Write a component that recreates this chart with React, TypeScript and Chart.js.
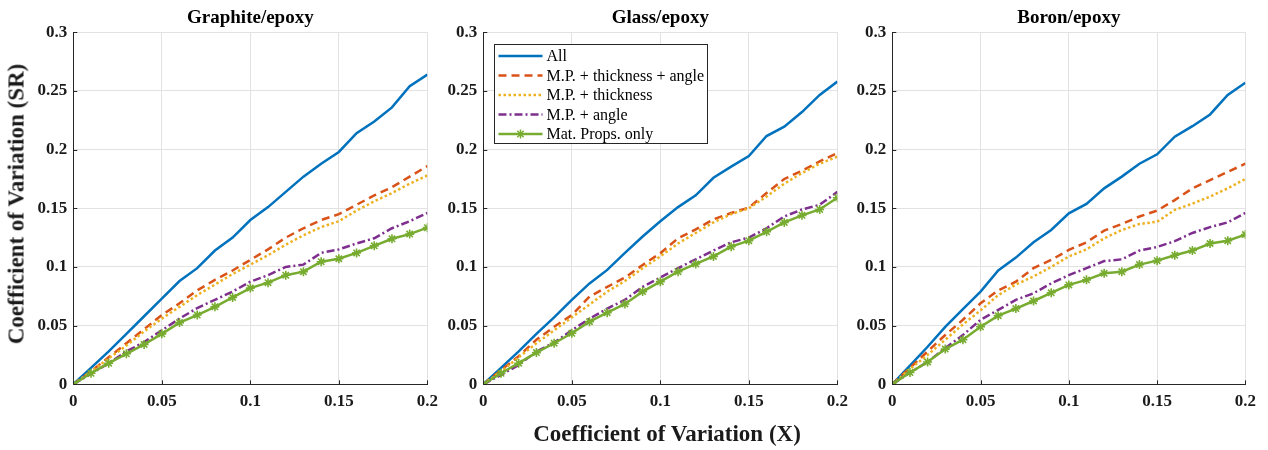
import React, { useEffect, useRef } from "react";
import { Chart, registerables } from "chart.js";

Chart.register(...registerables);

const xValues = [0, 0.01, 0.02, 0.03, 0.04, 0.05, 0.06, 0.07, 0.08, 0.09, 0.1, 0.11, 0.12, 0.13, 0.14, 0.15, 0.16, 0.17, 0.18, 0.19, 0.2];

const seriesNames = ["All", "M.P. + thickness + angle", "M.P. + thickness", "M.P. + angle", "Mat. Props. only"];
const panelTitles = ["Graphite/epoxy", "Glass/epoxy", "Boron/epoxy"];

// Graphite/epoxy
const graphiteAll = [0, 0.014, 0.028, 0.043, 0.058, 0.073, 0.088, 0.099, 0.114, 0.125, 0.140, 0.151, 0.164, 0.177, 0.188, 0.198, 0.214, 0.224, 0.236, 0.254, 0.264];
const graphiteThickAngle = [0, 0.011, 0.023, 0.035, 0.047, 0.059, 0.069, 0.080, 0.089, 0.097, 0.106, 0.115, 0.125, 0.133, 0.140, 0.145, 0.153, 0.161, 0.168, 0.177, 0.186];
const graphiteThick = [0, 0.011, 0.022, 0.033, 0.045, 0.056, 0.066, 0.076, 0.085, 0.094, 0.102, 0.110, 0.119, 0.127, 0.134, 0.139, 0.148, 0.156, 0.163, 0.171, 0.178];
const graphiteAngle = [0, 0.009, 0.018, 0.028, 0.036, 0.046, 0.056, 0.065, 0.072, 0.079, 0.0875, 0.093, 0.100, 0.102, 0.112, 0.115, 0.120, 0.1245, 0.133, 0.139, 0.146];
const graphiteMatOnly = [0, 0.0094, 0.018, 0.026, 0.034, 0.043, 0.0526, 0.059, 0.066, 0.074, 0.082, 0.0866, 0.093, 0.096, 0.1045, 0.107, 0.112, 0.118, 0.124, 0.128, 0.1335];

// Glass/epoxy
const glassAll = [0, 0.014, 0.028, 0.043, 0.057, 0.072, 0.086, 0.0975, 0.112, 0.126, 0.139, 0.151, 0.161, 0.176, 0.1855, 0.1946, 0.2116, 0.2196, 0.232, 0.2466, 0.258];
const glassThickAngle = [0, 0.012, 0.024, 0.038, 0.049, 0.059, 0.0747, 0.083, 0.091, 0.1017, 0.1117, 0.1244, 0.132, 0.1406, 0.146, 0.1506, 0.163, 0.175, 0.182, 0.190, 0.197];
const glassThick = [0, 0.011, 0.023, 0.035, 0.046, 0.057, 0.068, 0.079, 0.088, 0.099, 0.109, 0.120, 0.129, 0.138, 0.145, 0.150, 0.160, 0.171, 0.180, 0.188, 0.194];
const glassAngle = [0, 0.008, 0.0165, 0.028, 0.0355, 0.046, 0.056, 0.0645, 0.072, 0.083, 0.091, 0.099, 0.1065, 0.114, 0.121, 0.125, 0.133, 0.143, 0.149, 0.153, 0.164];
const glassMatOnly = [0, 0.0094, 0.018, 0.027, 0.035, 0.0435, 0.0534, 0.061, 0.0685, 0.079, 0.0875, 0.096, 0.1026, 0.109, 0.1173, 0.1224, 0.130, 0.138, 0.144, 0.149, 0.159];

// Boron/epoxy
const boronAll = [0, 0.016, 0.032, 0.049, 0.064, 0.079, 0.097, 0.108, 0.121, 0.1315, 0.1457, 0.1537, 0.167, 0.177, 0.188, 0.196, 0.211, 0.220, 0.230, 0.2466, 0.257];
const boronThickAngle = [0, 0.014, 0.028, 0.042, 0.055, 0.069, 0.080, 0.0875, 0.099, 0.106, 0.1145, 0.121, 0.131, 0.1366, 0.143, 0.148, 0.157, 0.167, 0.174, 0.181, 0.188];
const boronThick = [0, 0.013, 0.025, 0.038, 0.051, 0.063, 0.076, 0.085, 0.092, 0.100, 0.109, 0.115, 0.1244, 0.1315, 0.1366, 0.1386, 0.1486, 0.154, 0.160, 0.167, 0.175];
const boronAngle = [0, 0.010, 0.019, 0.031, 0.042, 0.055, 0.0634, 0.072, 0.0776, 0.086, 0.093, 0.099, 0.105, 0.1065, 0.114, 0.117, 0.122, 0.129, 0.134, 0.138, 0.146];
const boronMatOnly = [0, 0.010, 0.019, 0.030, 0.038, 0.049, 0.0585, 0.0645, 0.071, 0.078, 0.0847, 0.089, 0.0946, 0.096, 0.102, 0.1054, 0.110, 0.114, 0.120, 0.1224, 0.1276];

const panelSeries = [
  [graphiteAll, graphiteThickAngle, graphiteThick, graphiteAngle, graphiteMatOnly],
  [glassAll, glassThickAngle, glassThick, glassAngle, glassMatOnly],
  [boronAll, boronThickAngle, boronThick, boronAngle, boronMatOnly],
];

const X_TITLE = "Coefficient of Variation (X)";
const Y_TITLE = "Coefficient of Variation (SR)";

const FONT = "'Liberation Serif', 'Times New Roman', Times, serif";
const AXIS_COLOR = "#262626";
const TEXT_COLOR = "#1a1a1a";
const GRID_COLOR = "#e2e2e2";

const lineStyles = [
  { color: "#0072BD", dash: [] as number[], marker: false },
  { color: "#D95319", dash: [8, 5], marker: false },
  { color: "#EDB120", dash: [2.5, 2.5], marker: false },
  { color: "#7E2F8E", dash: [8, 3, 2, 3], marker: false },
  { color: "#77AC30", dash: [] as number[], marker: true },
];

// layout (pixels)
const PLOT_LEFT = [73.3, 483.3, 892.3];
const PLOT_RIGHT = [429, 839, 1247];
const PLOT_BOTTOM = 384.3;
const CANVAS_H = 450;
const Y_AXIS_W = 50;

function drawStar(ctx: CanvasRenderingContext2D, x: number, y: number, r: number) {
  ctx.beginPath();
  ctx.moveTo(x - r, y);
  ctx.lineTo(x + r, y);
  ctx.moveTo(x, y - r);
  ctx.lineTo(x, y + r);
  const d = r * 0.7071;
  ctx.moveTo(x - d, y - d);
  ctx.lineTo(x + d, y + d);
  ctx.moveTo(x - d, y + d);
  ctx.lineTo(x + d, y - d);
  ctx.stroke();
}

const innerTicksPlugin = {
  id: "innerTicks",
  afterDraw(chart: any) {
    const { ctx, chartArea, scales } = chart;
    ctx.save();
    ctx.strokeStyle = AXIS_COLOR;
    ctx.lineWidth = 1;
    ctx.beginPath();
    scales.x.ticks.forEach((t: any) => {
      const px = Math.round(scales.x.getPixelForValue(t.value)) + 0.5;
      ctx.moveTo(px, chartArea.bottom);
      ctx.lineTo(px, chartArea.bottom - 4);
    });
    scales.y.ticks.forEach((t: any) => {
      const py = Math.round(scales.y.getPixelForValue(t.value)) + 0.5;
      ctx.moveTo(chartArea.left, py);
      ctx.lineTo(chartArea.left + 4, py);
    });
    ctx.stroke();
    ctx.restore();
  },
};

const boxLegendPlugin = {
  id: "boxLegend",
  afterDraw(chart: any) {
    const { ctx, chartArea } = chart;
    const left = Math.round(chartArea.left + 11) + 0.5;
    const top = Math.round(chartArea.top + 12) + 0.5;
    const w = 213;
    const h = 99;
    ctx.save();
    ctx.fillStyle = "#ffffff";
    ctx.fillRect(left, top, w, h);
    ctx.strokeStyle = AXIS_COLOR;
    ctx.lineWidth = 1;
    ctx.strokeRect(left, top, w, h);
    ctx.font = `16px ${FONT}`;
    ctx.textBaseline = "middle";
    ctx.textAlign = "left";
    seriesNames.forEach((name, i) => {
      const st = lineStyles[i];
      const cy = top + 11.5 + i * 19.5;
      ctx.strokeStyle = st.color;
      ctx.lineWidth = 2.5;
      ctx.setLineDash(st.dash);
      ctx.beginPath();
      ctx.moveTo(left + 4, cy);
      ctx.lineTo(left + 48, cy);
      ctx.stroke();
      ctx.setLineDash([]);
      if (st.marker) {
        ctx.lineWidth = 1.5;
        drawStar(ctx, left + 26, cy, 4.5);
      }
      ctx.fillStyle = "#000000";
      ctx.fillText(name, left + 52, cy + 1);
    });
    ctx.restore();
  },
};

const tickFormat = (v: any) => String(Number(Number(v).toFixed(2)));

function Panel({ index }: { index: number }) {
  const ref = useRef<HTMLCanvasElement>(null);
  const canvasLeft = Math.floor(PLOT_LEFT[index]) - Y_AXIS_W;
  const yAxisWidth = PLOT_LEFT[index] - canvasLeft;
  const canvasW = Math.ceil(PLOT_RIGHT[index]) - canvasLeft + 16;
  const padRight = canvasW - (PLOT_RIGHT[index] - canvasLeft);

  useEffect(() => {
    const series = panelSeries[index];
    const datasets = series.map((vals, i) => {
      const st = lineStyles[i];
      return {
        label: seriesNames[i],
        data: xValues.map((x, k) => ({ x, y: vals[k] })),
        borderColor: st.color,
        backgroundColor: st.color,
        borderWidth: 2.5,
        borderDash: st.dash,
        borderCapStyle: "butt" as const,
        tension: 0,
        fill: false,
        pointStyle: "star" as const,
        pointRadius: st.marker ? 4.5 : 0,
        pointBorderWidth: 1.6,
        pointBorderColor: st.color,
        pointBackgroundColor: st.color,
        order: 4 - i,
      };
    });
    const plugins: any[] = [innerTicksPlugin];
    if (index === 1) plugins.push(boxLegendPlugin);
    const chart = new Chart(ref.current as HTMLCanvasElement, {
      type: "line",
      data: { datasets },
      plugins,
      options: {
        animation: false,
        responsive: false,
        devicePixelRatio: 1,
        layout: { padding: { left: 0, top: 0, bottom: 0, right: padRight } },
        plugins: {
          legend: { display: false },
          tooltip: { enabled: false },
          title: {
            display: true,
            fullSize: false,
            text: panelTitles[index],
            color: "#000000",
            font: { family: FONT, size: 19, weight: "bold" },
            padding: { top: 7, bottom: 2.5 },
          },
        },
        scales: {
          x: {
            type: "linear",
            min: 0,
            max: 0.2,
            ticks: {
              stepSize: 0.05,
              color: TEXT_COLOR,
              font: { family: FONT, size: 17, weight: "bold" },
              padding: 7,
              maxRotation: 0,
              callback: tickFormat,
            },
            grid: { color: GRID_COLOR, drawTicks: false, lineWidth: 1 },
            border: { color: AXIS_COLOR, width: 1 },
            afterFit: (scale: any) => {
              scale.height = CANVAS_H - PLOT_BOTTOM;
            },
          },
          y: {
            type: "linear",
            min: 0,
            max: 0.3,
            ticks: {
              stepSize: 0.05,
              color: TEXT_COLOR,
              font: { family: FONT, size: 17, weight: "bold" },
              padding: 6,
              callback: tickFormat,
            },
            grid: { color: GRID_COLOR, drawTicks: false, lineWidth: 1 },
            border: { color: AXIS_COLOR, width: 1 },
            afterFit: (scale: any) => {
              scale.width = yAxisWidth;
            },
          },
        },
      },
    });
    return () => chart.destroy();
  }, [index]);

  return (
    <canvas
      ref={ref}
      width={canvasW}
      height={CANVAS_H}
      style={{ position: "absolute", left: canvasLeft, top: 0, width: canvasW, height: CANVAS_H }}
    />
  );
}

export default function App() {
  return (
    <div
      style={{
        position: "absolute",
        left: 0,
        top: 0,
        width: 1268,
        height: 450,
        background: "#ffffff",
        overflow: "hidden",
        fontFamily: FONT,
      }}
    >
      <Panel index={0} />
      <Panel index={1} />
      <Panel index={2} />
      <div
        style={{
          position: "absolute",
          left: 667,
          top: 433,
          transform: "translate(-50%, -50%)",
          fontSize: 23,
          fontWeight: "bold",
          lineHeight: "23px",
          whiteSpace: "nowrap",
          color: TEXT_COLOR,
        }}
      >
        {X_TITLE}
      </div>
      <div
        style={{
          position: "absolute",
          left: 16,
          top: 204,
          transform: "translate(-50%, -50%) rotate(-90deg)",
          fontSize: 23,
          fontWeight: "bold",
          lineHeight: "23px",
          whiteSpace: "nowrap",
          color: TEXT_COLOR,
        }}
      >
        {Y_TITLE}
      </div>
    </div>
  );
}
